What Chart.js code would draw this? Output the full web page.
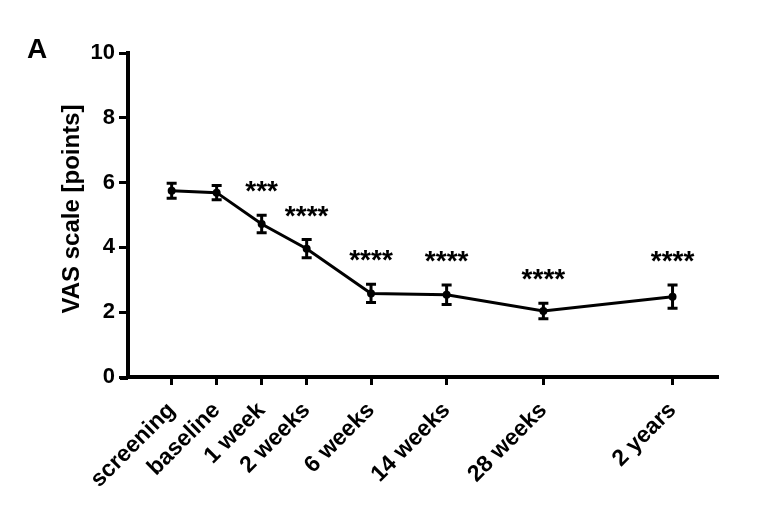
<!DOCTYPE html>
<html>
<head>
<meta charset="utf-8">
<script src="https://cdn.jsdelivr.net/npm/chart.js@4"></script>
<style>
  html, body { margin: 0; padding: 0; background: #fff; }
  #wrap { position: relative; width: 768px; height: 525px; }
</style>
</head>
<body>
<div id="wrap"><canvas id="c" width="768" height="525"></canvas></div>
<script>
// ---- data ----
const categories = ['screening', 'baseline', '1 week', '2 weeks', '6 weeks', '14 weeks', '28 weeks', '2 years'];
const categoryPositions = [0, 1, 2, 3, 4.43, 6.11, 8.26, 11.13];   // uneven spacing of the time axis
const vasMean = [5.75, 5.69, 4.72, 3.96, 2.58, 2.54, 2.04, 2.48];
const vasSem  = [0.23, 0.22, 0.27, 0.28, 0.28, 0.30, 0.24, 0.36];
const significance = ['', '', '***', '****', '****', '****', '****', '****'];
const yTicks = [0, 2, 4, 6, 8, 10];
const yTitle = 'VAS scale [points]';
const panelLabel = 'A';

const FONT = "'Liberation Sans', Arial, Helvetica, sans-serif";

const errorBarsPlugin = {
  id: 'errorBars',
  afterDatasetsDraw(chart) {
    const {ctx, scales: {x, y}, chartArea} = chart;
    ctx.save();
    ctx.strokeStyle = '#000';
    ctx.fillStyle = '#000';
    ctx.lineWidth = 3;
    ctx.lineCap = 'butt';
    categoryPositions.forEach((p, i) => {
      const px = x.getPixelForValue(p);
      const yTop = y.getPixelForValue(vasMean[i] + vasSem[i]);
      const yBot = y.getPixelForValue(vasMean[i] - vasSem[i]);
      ctx.beginPath();
      ctx.moveTo(px, yTop); ctx.lineTo(px, yBot);
      ctx.moveTo(px - 5, yTop); ctx.lineTo(px + 5, yTop);
      ctx.moveTo(px - 5, yBot); ctx.lineTo(px + 5, yBot);
      ctx.stroke();
      if (significance[i]) {
        ctx.font = 'bold 28px ' + FONT;
        ctx.textAlign = 'center';
        ctx.textBaseline = 'alphabetic';
        ctx.fillText(significance[i], px, yTop - 15);
      }
    });
    // x-axis line extends a little left of the y axis (GraphPad style)
    ctx.lineWidth = 4;
    ctx.beginPath();
    ctx.moveTo(chartArea.left - 8, chartArea.bottom + 1);
    ctx.lineTo(chartArea.left, chartArea.bottom + 1);
    ctx.stroke();
    // y-axis title (sits slightly above the axis centre in the reference)
    ctx.save();
    ctx.translate(72, (chartArea.top + chartArea.bottom) / 2 - 6);
    ctx.rotate(-Math.PI / 2);
    ctx.font = 'bold 24px ' + FONT;
    ctx.textAlign = 'center';
    ctx.textBaseline = 'middle';
    ctx.fillText(yTitle, 0, 0);
    ctx.restore();
    // panel label
    ctx.font = 'bold 28px ' + FONT;
    ctx.textAlign = 'left';
    ctx.textBaseline = 'alphabetic';
    ctx.fillText(panelLabel, 27, 58);
    ctx.restore();
  }
};

new Chart(document.getElementById('c'), {
  type: 'line',
  data: {
    datasets: [{
      data: categoryPositions.map((p, i) => ({x: p, y: vasMean[i]})),
      borderColor: '#000',
      backgroundColor: '#000',
      borderWidth: 3,
      pointRadius: 2.5,
      pointBackgroundColor: '#000',
      tension: 0,
      fill: false
    }]
  },
  options: {
    responsive: false,
    animation: false,
    events: [],
    layout: { padding: { left: 0, right: 50, top: 53, bottom: 0 } },
    plugins: { legend: { display: false }, tooltip: { enabled: false } },
    scales: {
      x: {
        type: 'linear',
        min: -0.97,
        max: 12.14,
        afterBuildTicks: (axis) => { axis.ticks = categoryPositions.map(v => ({value: v})); },
        afterFit: (axis) => { axis.height = 148; },
        border: { display: true, color: '#000', width: 4 },
        grid: { display: true, drawOnChartArea: false, drawTicks: true, tickLength: 8, tickWidth: 3, tickColor: '#000', color: '#000' },
        ticks: {
          autoSkip: false,
          maxRotation: 45,
          minRotation: 45,
          padding: 12,
          color: '#000',
          font: { family: FONT, size: 23, weight: 'bold' },
          callback: (v, i) => categories[i]
        }
      },
      y: {
        type: 'linear',
        min: 0,
        max: 10,
        afterBuildTicks: (axis) => { axis.ticks = yTicks.map(v => ({value: v})); },
        afterFit: (axis) => { axis.width = 128; },
        border: { display: true, color: '#000', width: 4 },
        grid: { display: true, drawOnChartArea: false, drawTicks: true, tickLength: 9, tickWidth: 3, tickColor: '#000', color: '#000' },
        ticks: {
          padding: 4,
          color: '#000',
          font: { family: FONT, size: 22, weight: 'bold' }
        },
        title: { display: false }
      }
    }
  },
  plugins: [errorBarsPlugin]
});
</script>
</body>
</html>
